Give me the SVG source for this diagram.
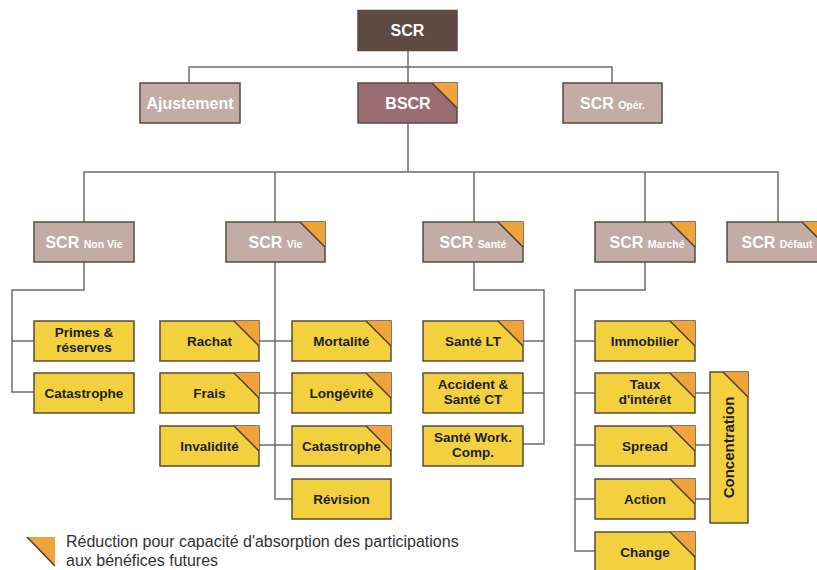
<svg xmlns="http://www.w3.org/2000/svg" width="817" height="570" viewBox="0 0 817 570">
<style>
.bx{stroke:#5a4a42;stroke-width:1.5}
.top{fill:#5f4a44}
.bs{fill:#9a6d73}
.gr{fill:#c2aca5}
.yl{fill:#f3d03e}
.tri{fill:#f0a33a}
.dg{stroke:#4a3a30;stroke-width:1.5;fill:none}
.wt{font-family:"Liberation Sans",Arial,sans-serif;font-weight:bold;fill:#ffffff;font-size:16px;text-anchor:middle}
.sub{font-size:10.5px}
.yt{font-family:"Liberation Sans",Arial,sans-serif;font-weight:bold;fill:#1e1e1e;font-size:13.5px;text-anchor:middle}
.lg{font-family:"Liberation Sans",Arial,sans-serif;fill:#333333;font-size:16px}
.cn{stroke:#6e6e6e;stroke-width:1.5;fill:none}
</style>
<defs>
<g id="corner"><polygon class="tri" points="-25,0 0,0 0,25"/><line class="dg" x1="-25" y1="0" x2="0" y2="25"/></g>
</defs>
<rect width="817" height="570" fill="#ffffff"/>
<g id="connectors">
<path class="cn" d="M408,50V83M189,83V67H612V83M408,123V172M84,222V172H778V222M275,172V222M474,172V222M645,172V222"/>
<path class="cn" d="M84,262V290H12V392H34M12,341H34"/>
<path class="cn" d="M275,262V499H292M259,341H292M259,393H292M259,445H292"/>
<path class="cn" d="M474,262V290H544V444H523M523,341H544M523,393H544"/>
<path class="cn" d="M645,262V290H575V551H595M575,341H595M575,393H595M575,445H595M575,499H595"/>
<path class="cn" d="M695,393H710M695,445H710M695,499H710"/>
</g>
<g id="n-scr"><rect class="bx top" x="358" y="10.5" width="99" height="40"/><text class="wt" x="407.5" y="36">SCR</text></g>
<g id="n-ajust"><rect class="bx gr" x="140" y="83" width="100" height="40"/><text class="wt" x="190" y="108.5">Ajustement</text></g>
<g id="n-bscr"><rect class="bx bs" x="358" y="83" width="99" height="40"/><text class="wt" x="408" y="108.5">BSCR</text><use href="#corner" x="457" y="83"/></g>
<g id="n-oper"><rect class="bx gr" x="563" y="83" width="99" height="40"/><text class="wt" x="612.5" y="108.5">SCR <tspan class="sub">Opér.</tspan></text></g>
<g id="n-nonvie"><rect class="bx gr" x="34" y="222" width="100" height="40"/><text class="wt" x="84" y="248">SCR <tspan class="sub">Non Vie</tspan></text></g>
<g id="n-vie"><rect class="bx gr" x="226" y="222" width="99" height="40"/><text class="wt" x="275.5" y="248">SCR <tspan class="sub">Vie</tspan></text><use href="#corner" x="325" y="222"/></g>
<g id="n-sante"><rect class="bx gr" x="423" y="222" width="100" height="40"/><text class="wt" x="473" y="248">SCR <tspan class="sub">Santé</tspan></text><use href="#corner" x="523" y="222"/></g>
<g id="n-marche"><rect class="bx gr" x="595" y="222" width="100" height="40"/><text class="wt" x="647" y="248">SCR <tspan class="sub">Marché</tspan></text><use href="#corner" x="695" y="222"/></g>
<g id="n-defaut"><rect class="bx gr" x="727" y="222" width="100" height="40"/><text class="wt" x="777" y="248">SCR <tspan class="sub">Défaut</tspan></text><use href="#corner" x="827" y="222"/></g>
<g id="n-primes"><rect class="bx yl" x="34" y="321" width="100" height="40"/><text class="yt" x="84" y="337">Primes &amp;</text><text class="yt" x="84" y="352">réserves</text></g>
<g id="n-catnv"><rect class="bx yl" x="34" y="373" width="100" height="40"/><text class="yt" x="84" y="398">Catastrophe</text></g>
<g id="n-rachat"><rect class="bx yl" x="160" y="321" width="99" height="40"/><text class="yt" x="209.5" y="346">Rachat</text><use href="#corner" x="259" y="321"/></g>
<g id="n-frais"><rect class="bx yl" x="160" y="373" width="99" height="40"/><text class="yt" x="209.5" y="398">Frais</text><use href="#corner" x="259" y="373"/></g>
<g id="n-inval"><rect class="bx yl" x="160" y="426" width="99" height="40"/><text class="yt" x="209.5" y="451">Invalidité</text><use href="#corner" x="259" y="426"/></g>
<g id="n-mort"><rect class="bx yl" x="292" y="321" width="99" height="40"/><text class="yt" x="341.5" y="346">Mortalité</text><use href="#corner" x="391" y="321"/></g>
<g id="n-long"><rect class="bx yl" x="292" y="373" width="99" height="40"/><text class="yt" x="341.5" y="398">Longévité</text><use href="#corner" x="391" y="373"/></g>
<g id="n-catv"><rect class="bx yl" x="292" y="426" width="99" height="40"/><use href="#corner" x="391" y="426"/><text class="yt" x="341.5" y="451">Catastrophe</text></g>
<g id="n-revis"><rect class="bx yl" x="292" y="479" width="99" height="40"/><text class="yt" x="341.5" y="504">Révision</text></g>
<g id="n-santelt"><rect class="bx yl" x="423" y="321" width="100" height="40"/><text class="yt" x="473" y="346">Santé LT</text><use href="#corner" x="523" y="321"/></g>
<g id="n-accid"><rect class="bx yl" x="423" y="373" width="100" height="40"/><text class="yt" x="473" y="389">Accident &amp;</text><text class="yt" x="473" y="404">Santé CT</text></g>
<g id="n-work"><rect class="bx yl" x="423" y="426" width="100" height="40"/><text class="yt" x="473" y="442">Santé Work.</text><text class="yt" x="473" y="457">Comp.</text></g>
<g id="n-immo"><rect class="bx yl" x="595" y="321" width="100" height="40"/><text class="yt" x="645" y="346">Immobilier</text><use href="#corner" x="695" y="321"/></g>
<g id="n-taux"><rect class="bx yl" x="595" y="373" width="100" height="40"/><text class="yt" x="645" y="389">Taux</text><text class="yt" x="645" y="404">d'intérêt</text><use href="#corner" x="695" y="373"/></g>
<g id="n-spread"><rect class="bx yl" x="595" y="426" width="100" height="40"/><text class="yt" x="645" y="451">Spread</text><use href="#corner" x="695" y="426"/></g>
<g id="n-action"><rect class="bx yl" x="595" y="479" width="100" height="40"/><text class="yt" x="645" y="504">Action</text><use href="#corner" x="695" y="479"/></g>
<g id="n-change"><rect class="bx yl" x="595" y="532" width="100" height="40"/><text class="yt" x="645" y="557">Change</text><use href="#corner" x="695" y="532"/></g>
<g id="n-conc"><rect class="bx yl" x="710" y="372" width="38" height="151"/><use href="#corner" x="748" y="372"/><text class="yt" style="font-size:15px" transform="translate(734,447.5) rotate(-90)">Concentration</text></g>
<g id="legend"><polygon class="tri" points="27,537 55,537 55,566"/><line class="dg" x1="27" y1="537" x2="55" y2="566"/><text class="lg" x="66" y="547">Réduction pour capacité d'absorption des participations</text><text class="lg" x="66" y="566">aux bénéfices futures</text></g>
</svg>
